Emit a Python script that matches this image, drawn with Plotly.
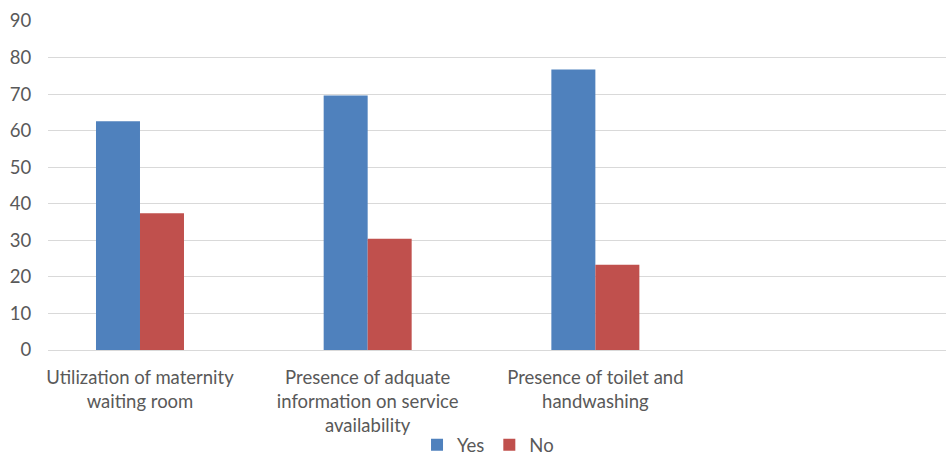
import plotly.graph_objects as go

categories = [
    "Utilization of maternity<br>waiting room",
    "Presence of adquate<br>information on service<br>availability",
    "Presence of toilet and<br>handwashing",
]
yes_values = [62.6, 69.6, 76.7]
no_values = [37.4, 30.4, 23.3]
y_ticks = [0, 10, 20, 30, 40, 50, 60, 70, 80, 90]

FONT = "Lato"
TXT = "#595959"

fig = go.Figure()
fig.add_trace(go.Bar(name="Yes", x=categories, y=yes_values,
                     marker=dict(color="#4F81BD", line=dict(width=0))))
fig.add_trace(go.Bar(name="No", x=categories, y=no_values,
                     marker=dict(color="#C0504D", line=dict(width=0))))

fig.update_layout(
    width=946, height=453,
    margin=dict(l=48, r=0, t=21, b=103, autoexpand=False),
    paper_bgcolor="white", plot_bgcolor="white",
    barmode="group", bargap=0.6135, bargroupgap=0,
    font=dict(family=FONT, size=18.5, color=TXT),
    legend=dict(orientation="h", x=0.49, xanchor="center", y=-0.232, yanchor="top",
                font=dict(family=FONT, size=18.5, color=TXT),
                itemwidth=30, tracegroupgap=0),
    xaxis=dict(type="category", range=[-0.404, 3.54], showgrid=False,
               showline=False, zeroline=False, automargin=False,
               ticks="outside", ticklen=11, tickcolor="rgba(0,0,0,0)",
               tickfont=dict(family=FONT, size=18.5, color=TXT)),
    yaxis=dict(range=[0, 90], tickvals=y_ticks, showgrid=True, automargin=False,
               gridcolor="#D9D9D9", gridwidth=1.3, zeroline=True,
               zerolinecolor="#D9D9D9", zerolinewidth=1.3, showline=False,
               ticks="outside", ticklen=12, tickcolor="rgba(0,0,0,0)",
               tickfont=dict(family=FONT, size=18.5, color=TXT)),
)

fig.write_html("out.html")
